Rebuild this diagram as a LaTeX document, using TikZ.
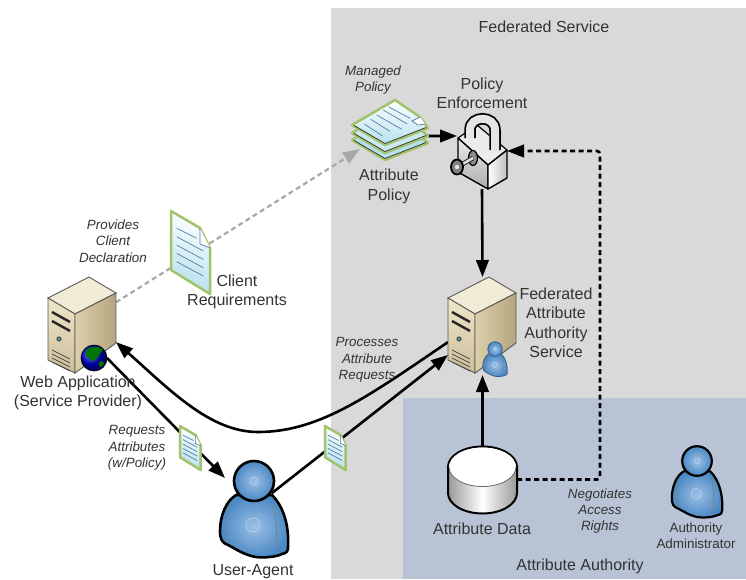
\documentclass[tikz,border=0pt]{standalone}
\usepackage{fontspec}
\setmainfont{Liberation Sans}
\usetikzlibrary{arrows.meta}

\definecolor{fedgray}{HTML}{D9D9D9}
\definecolor{authblue}{HTML}{B8C4D6}
\definecolor{inkgray}{HTML}{333333}
\definecolor{dashgray}{HTML}{A8A8A8}
\definecolor{docgreen}{HTML}{A2C36C}
\definecolor{doccyan}{HTML}{B5E0EE}
\definecolor{docline}{HTML}{4F7FA8}
\definecolor{personlight}{HTML}{9DC0E6}
\definecolor{persondark}{HTML}{4A88C4}
\definecolor{srvtop}{HTML}{F2EBD5}
\definecolor{srvfronta}{HTML}{EFE6CC}
\definecolor{srvfrontb}{HTML}{CDBE9A}
\definecolor{srvsidea}{HTML}{DCCFAA}
\definecolor{srvsideb}{HTML}{B5A57F}

\tikzset{
  lbl/.style={align=center,inner sep=0pt,text=inkgray,font=\fontsize{16}{19.5}\selectfont},
  note/.style={align=center,inner sep=0pt,text=inkgray,font=\fontsize{13.4}{16.3}\selectfont\itshape},
  smalllbl/.style={align=center,inner sep=0pt,text=inkgray,font=\fontsize{13.4}{16.3}\selectfont},
  iconbox/.style={inner sep=0pt,outer sep=0pt},
  solidarrow/.style={line width=2.6pt,-{Triangle[length=17pt,width=12.5pt]}},
  dashedarrow/.style={line width=2.6pt,dash pattern=on 5pt off 3.5pt,-{Triangle[length=17pt,width=12.5pt]}},
  pics/servericon/.style={code={
    \draw[draw=black!65,line width=.9pt,fill=srvtop] (0,0) -- (27,16) -- (-14,37) -- (-41,21) -- cycle;
    \shadedraw[draw=black!65,line width=.9pt,top color=srvfronta,bottom color=srvfrontb] (-41,21) -- (-14,37) -- (-14,96) -- (-41,83) -- cycle;
    \shadedraw[draw=black!65,line width=.9pt,left color=srvsidea,right color=srvsideb] (-14,37) -- (27,16) -- (27,66) -- (-14,96) -- cycle;
    \draw[line width=2.4pt,black!85] (-37,35) -- (-19,45);
    \draw[line width=2.4pt,black!85] (-37,44) -- (-19,54);
    \fill[black!70] (-30,62) circle (2.6);
    \fill[teal!70] (-30,62) circle (1.5);
    \foreach \dy in {0,4,8,12} \draw[line width=.7pt,black!70] (-37,73+\dy) -- (-19,82+\dy);
  }},
  pics/personicon/.style={code={
    \shadedraw[inner color=personlight,outer color=persondark] (-18,14) .. controls (-28,20) and (-34,35) .. (-34,50) .. controls (-34,58) and (-32,62) .. (-26,64) .. controls (-18,68) and (-10,74) .. (2,76) .. controls (10,77) and (22,76) .. (28,73) .. controls (33,72) and (34,70) .. (34,66) .. controls (35,50) and (32,28) .. (18,14) -- cycle;
    \draw[black!50,line width=.7pt] (-25,24) .. controls (-29,35) and (-29,45) .. (-26,62);
    \draw[black!50,line width=.7pt] (19,24) .. controls (23,35) and (23,50) .. (22,68);
    \draw[personlight!60!white,line width=.5pt] (-1,44) circle (7);
    \shadedraw[inner color=personlight,outer color=persondark] (0,0) circle (20);
    \draw[personlight!60!white,line width=.5pt] (0,0) circle (4);
  }},
  pics/docicon/.style={code={
    \shadedraw[draw=docgreen,line width=2.5pt,line join=round,top color=white,bottom color=doccyan,shading angle=-20] (0,0) -- (29,17) -- (39,37) -- (39,83) -- (0,59) -- cycle;
    \draw[docline,line width=.7pt,fill=white] (29,17) -- (29,33) -- (39,37);
    \draw[docline,line width=.7pt] (5.7,17.3) -- (25.7,27.3);
    \foreach \dy in {0,8.4,16.7,25} \draw[docline,line width=.7pt] (5.7,25.7+\dy) -- (32.3,39+\dy+1);
  }},
  pics/stackicon/.style={code={
    \foreach \dy/\tone in {15/doccyan,8/doccyan!70!white} {
      \draw[draw=docgreen,line width=2.5pt,line join=round,fill=\tone] (0,\dy) -- (33,28+\dy) -- (-10,45+\dy) -- (-43,25+\dy) -- cycle;
      \draw[black!80,line width=.7pt] (-41,25.5+\dy) -- (-10,43.5+\dy) -- (31,27.5+\dy);
    }
    \shadedraw[draw=docgreen,line width=2.5pt,line join=round,top color=white,bottom color=doccyan] (0,0) -- (25,17) -- (33,28) -- (-10,45) -- (-43,25) -- cycle;
    \draw[black!80,line width=.7pt] (-41,25.5) -- (-10,43.5) -- (31,27.5);
    \draw[docline,line width=.7pt] (-30.7,24) -- (-12.3,36);
    \draw[docline,line width=.7pt] (-24.3,19.3) -- (-5,31.3);
    \draw[docline,line width=.7pt] (-18.3,15) -- (6.7,29.3);
    \draw[docline,line width=.7pt] (-11.7,10) -- (12.3,24);
    \draw[docline,line width=.7pt] (-6.7,6.7) -- (15,18.3);
    \draw[docline,line width=.7pt,fill=white] (25,17) -- (17,21) -- (23,25) -- (30,24);
  }},
  pics/lockicon/.style={code={
    \draw[line width=1.2pt,line join=round,fill=black!8] (-30,-27) -- (-11,-40) -- (19,-15) -- (0,0) -- cycle;
    \shadedraw[line width=1.4pt,line join=round,top color=black!8,bottom color=black!32] (-30,-27) -- (0,0) -- (0,24) -- (-30,7) -- cycle;
    \shadedraw[line width=1.4pt,line join=round,left color=white,right color=black!25] (0,0) -- (19,-15) -- (19,13) -- (0,24) -- cycle;
    \draw[black,line width=11.5pt] (-18,-27) -- (-18,-35) .. controls (-18,-50) and (7,-50) .. (7,-35) -- (7,-15);
    \draw[black!10,line width=8pt] (-18,-26) -- (-18,-35) .. controls (-18,-50) and (7,-50) .. (7,-35) -- (7,-14);
    \draw[line width=1.2pt,fill=black!45] (-15,-7) ellipse (4.5 and 7.5);
    \draw[black!85,line width=4.6pt] (-15,-7) -- (-27,0);
    \draw[black!12,line width=2.6pt] (-15,-7) -- (-27,0);
    \draw[line width=1.8pt,fill=black!50] (-31,2) ellipse (6 and 7.5);
    \fill[black!10] (-31,2) circle (2.2);
  }}
}

\begin{document}
\begin{tikzpicture}[x=1pt,y=-1pt]
      \useasboundingbox (0,0) rectangle (746,579);
      \fill [white](0,0) rectangle (746,579);
      \fill [fedgray](331,8) rectangle (746,579);
      \fill [authblue](403,398) rectangle (746,579);

      \node[iconbox,minimum width=70pt,minimum height=97pt] (webapp) at (81,325) {};
      \node[iconbox,minimum width=26pt,minimum height=26pt] (globe) at (94,358) {};
      \node[iconbox,minimum width=69pt,minimum height=98pt] (fedsrv) at (482.5,326) {};
      \node[iconbox,minimum width=69pt,minimum height=67pt] (attrdata) at (482.5,479.5) {};
      \node[iconbox,minimum width=50pt,minimum height=76pt] (lockicn) at (482,151) {};
      \node[iconbox,minimum width=76pt,minimum height=60pt] (stackicn) at (390,130) {};
      \node[iconbox,minimum width=68pt,minimum height=96pt] (useragent) at (254,509) {};
      \node[iconbox,minimum width=39pt,minimum height=83pt] (clientdoc) at (190.5,252.5) {};
      \node[iconbox,minimum width=50pt,minimum height=70pt] (authadmin) at (697,480) {};
      \coordinate (stackin) at (360,149);
      \coordinate (userin) at (225,478);
      \coordinate (userout) at (272,493);
      \coordinate (arclow) at (258,432);
      \coordinate (dashturn) at (600,151);

      \draw [dashgray,dashedarrow,line width=2.2pt](webapp.33) -- (stackin);
      \draw [solidarrow](stackicn.-9) -- (lockicn.149);
      \draw [solidarrow](lockicn.south) -- (fedsrv.north);
      \draw [solidarrow](attrdata.north) -- (fedsrv.south);
      \draw [dashedarrow,rounded corners=3pt](attrdata.east) -| (dashturn) -- (lockicn.east);
      \draw [solidarrow](fedsrv.205) .. controls (370,395) and (320,432) .. (arclow) .. controls (210,432) and (170,390) .. (webapp.-26);
      \draw [solidarrow](globe.east) -- (userin);
      \draw [solidarrow](userout) -- (fedsrv.220);

      \pic at (89,277) {servericon};
      \pic at (489,277) {servericon};
      \shade [ball color=blue!85!black](94,358) circle (13);
      \fill [green!45!black](86,350) .. controls (92,345) and (100,346) .. (103,350) .. controls (98,356) and (96,362) .. (92,361) .. controls (88,358) and (84,356) .. (86,350) -- cycle;
      \fill [green!45!black](99,362) .. controls (103,360) and (105,362) .. (103,366) .. controls (100,368) and (98,366) .. (99,362) -- cycle;
      \draw [black,line width=.7pt](94,358) circle (13);
      \pic[line width=.8pt,draw=persondark!70!black,scale=.36] at (495,349) {personicon};
      \pic[line width=2.6pt,draw=black] at (254,481) {personicon};
      \pic[line width=2.2pt,draw=black,scale=.74] at (697,461) {personicon};
      \pic at (171,211) {docicon};
      \pic[scale=.53] at (180,426) {docicon};
      \pic[scale=.53] at (325,426) {docicon};
      \pic at (395,100) {stackicon};
      \pic at (488,165) {lockicon};

      \shadedraw [draw=black,line width=2pt,left color=black!40,right color=black!40,middle color=white](448,467) -- (448,493) arc[start angle=180,end angle=0,x radius=34.5,y radius=20.5] -- (517,467) -- cycle;
      \draw [draw=black,line width=2pt,fill=white](448,467) arc[start angle=180,end angle=360,x radius=34.5,y radius=20.5];
      \fill [white](449,467) arc[start angle=180,end angle=0,x radius=33.5,y radius=19.5] arc[start angle=0,end angle=-180,x radius=33.5,y radius=19.5];
      \draw [black!60,line width=.8pt](449,467) arc[start angle=180,end angle=0,x radius=33.5,y radius=19.5];

      \node[lbl] (fedlabel) at (544,27) {Federated Service};
      \node[lbl] (authlabel) at (580,566) {Attribute Authority};
      \node[note] (managedlabel) at (373,80) {Managed\\Policy};
      \node[lbl] (enforcelabel) at (482,93.5) {Policy\\Enforcement};
      \node[lbl] (policylabel) at (389,186.5) {Attribute\\Policy};
      \node[note] (provideslabel) at (113,241) {Provides\\Client\\Declaration};
      \node[lbl] (clientlabel) at (237,292) {Client\\Requirements};
      \node[lbl] (weblabel) at (78,393) {Web Application\\(Service Provider)};
      \node[note] (requestlabel) at (137,448) {Requests\\Attributes\\(w/Policy)};
      \node[note] (processlabel) at (367,360) {Processes\\Attribute\\Requests};
      \node[lbl] (fedsrvlabel) at (556,323) {Federated\\Attribute\\Authority\\Service};
      \node[lbl] (datalabel) at (482,529) {Attribute Data};
      \node[note] (negotiatelabel) at (600,511) {Negotiates\\Access\\Rights};
      \node[smalllbl] (adminlabel) at (696,536) {Authority\\Administrator};
      \node[lbl] (userlabel) at (253,572) {User-Agent};
\end{tikzpicture}
\end{document}
